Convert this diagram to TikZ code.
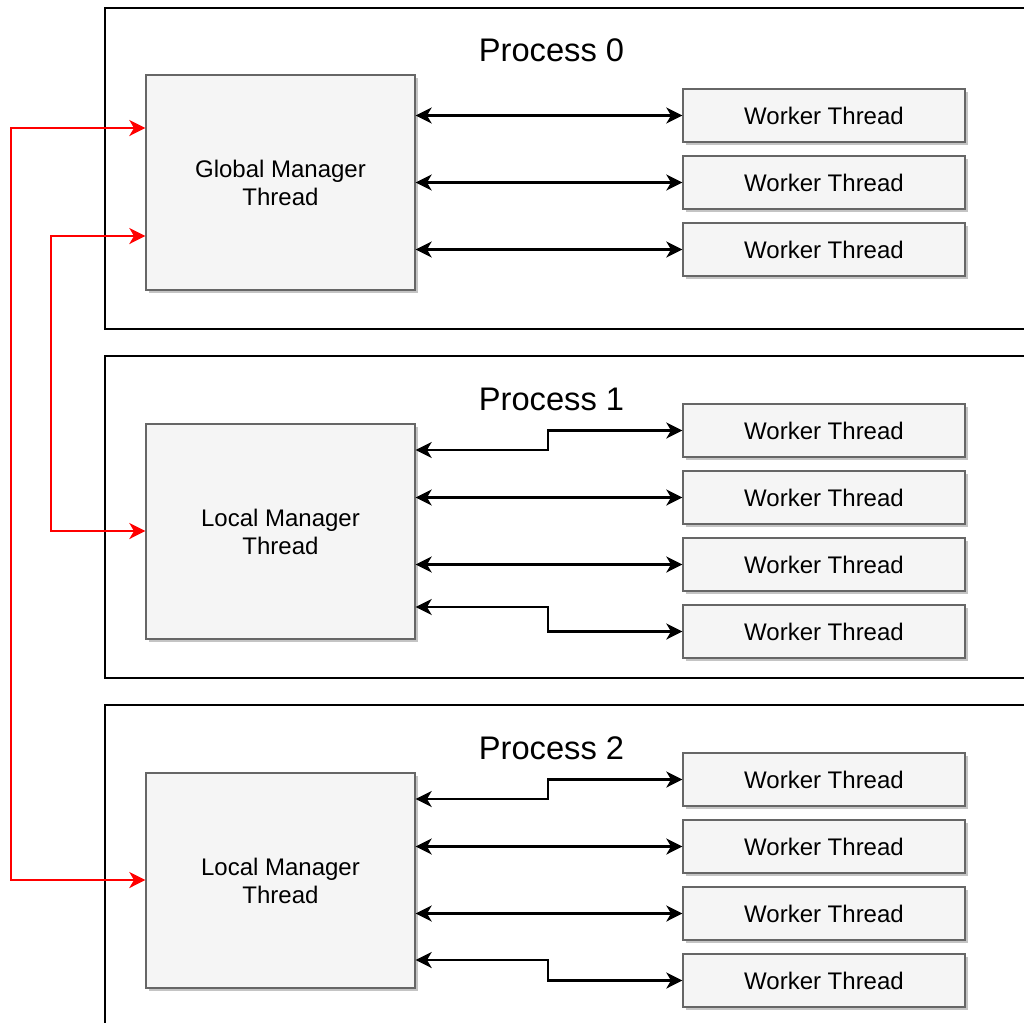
\documentclass[tikz,border=0pt]{standalone}
\usepackage{fontspec}
\setmainfont{Liberation Sans}
\usetikzlibrary{arrows.meta,shadows}
\definecolor{boxfill}{HTML}{F5F5F5}
\definecolor{boxline}{HTML}{666666}
\definecolor{shade}{HTML}{C4C4C4}
\begin{document}
\begin{tikzpicture}[x=0.75pt,y=-0.75pt,
  process/.style={draw=black,line width=1.75pt},
  ptitle/.style={anchor=base,inner sep=0pt,font=\fontsize{24.5}{29}\selectfont},
  thread/.style={draw=boxline,fill=boxfill,line width=1pt,inner sep=0pt,
    font=\fontsize{18}{21}\selectfont,text=black,
    drop shadow={shadow xshift=2.5pt,shadow yshift=-2.5pt,fill=shade,opacity=1}},
  manager/.style={thread,minimum width=201.75pt,minimum height=161.25pt,align=center},
  worker/.style={thread,minimum width=211.5pt,minimum height=39.75pt},
  link/.style={line width=1.8pt,{Stealth[length=12pt,width=12pt,inset=3.5pt]}-{Stealth[length=12pt,width=12pt,inset=3.5pt]}},
  redlink/.style={link,line width=2pt,draw=red,color=red}]
\useasboundingbox (0,0) rectangle (1024,1022);
\clip (0,0) rectangle (1024,1022);

% process frames
\draw[process] (105,8) rectangle (1040,329);
\draw[process] (105,356) rectangle (1040,678);
\draw[process] (105,705) rectangle (1040,1040);
\node[ptitle] (t0) at (551.5,61) {Process 0};
\node[ptitle] (t1) at (551.5,410) {Process 1};
\node[ptitle] (t2) at (551.5,759) {Process 2};

% manager threads
\node[manager] (g)  at (280.5,182.5) {Global Manager\\Thread};
\node[manager] (l1) at (280.5,531.5) {Local Manager\\Thread};
\node[manager] (l2) at (280.5,880.5) {Local Manager\\Thread};

% worker threads, process 0
\node[worker] (w01) at (824,115.5) {Worker Thread};
\node[worker] (w02) at (824,182.5) {Worker Thread};
\node[worker] (w03) at (824,249.5) {Worker Thread};
% process 1
\node[worker] (w11) at (824,430.5) {Worker Thread};
\node[worker] (w12) at (824,497.5) {Worker Thread};
\node[worker] (w13) at (824,564.5) {Worker Thread};
\node[worker] (w14) at (824,631.5) {Worker Thread};
% process 2
\node[worker] (w21) at (824,779.5) {Worker Thread};
\node[worker] (w22) at (824,846.5) {Worker Thread};
\node[worker] (w23) at (824,913.5) {Worker Thread};
\node[worker] (w24) at (824,980.5) {Worker Thread};

% manager <-> worker links
\draw[link] (g.east |- w01.west) -- (w01.west);
\draw[link] (g.east |- w02.west) -- (w02.west);
\draw[link] (g.east |- w03.west) -- (w03.west);

\draw[link] (l1.east |- 0,450) -- (548,450) |- (w11.west);
\draw[link] (l1.east |- w12.west) -- (w12.west);
\draw[link] (l1.east |- w13.west) -- (w13.west);
\draw[link] (l1.east |- 0,607) -- (548,607) |- (w14.west);

\draw[link] (l2.east |- 0,799) -- (548,799) |- (w21.west);
\draw[link] (l2.east |- w22.west) -- (w22.west);
\draw[link] (l2.east |- w23.west) -- (w23.west);
\draw[link] (l2.east |- 0,960) -- (548,960) |- (w24.west);

% manager <-> manager links
\draw[redlink] (g.west |- 0,128) -- (11,128) -- (11,880) -- (l2.west |- 0,880);
\draw[redlink] (g.west |- 0,236) -- (51,236) -- (51,531) -- (l1.west |- 0,531);
\end{tikzpicture}
\end{document}
